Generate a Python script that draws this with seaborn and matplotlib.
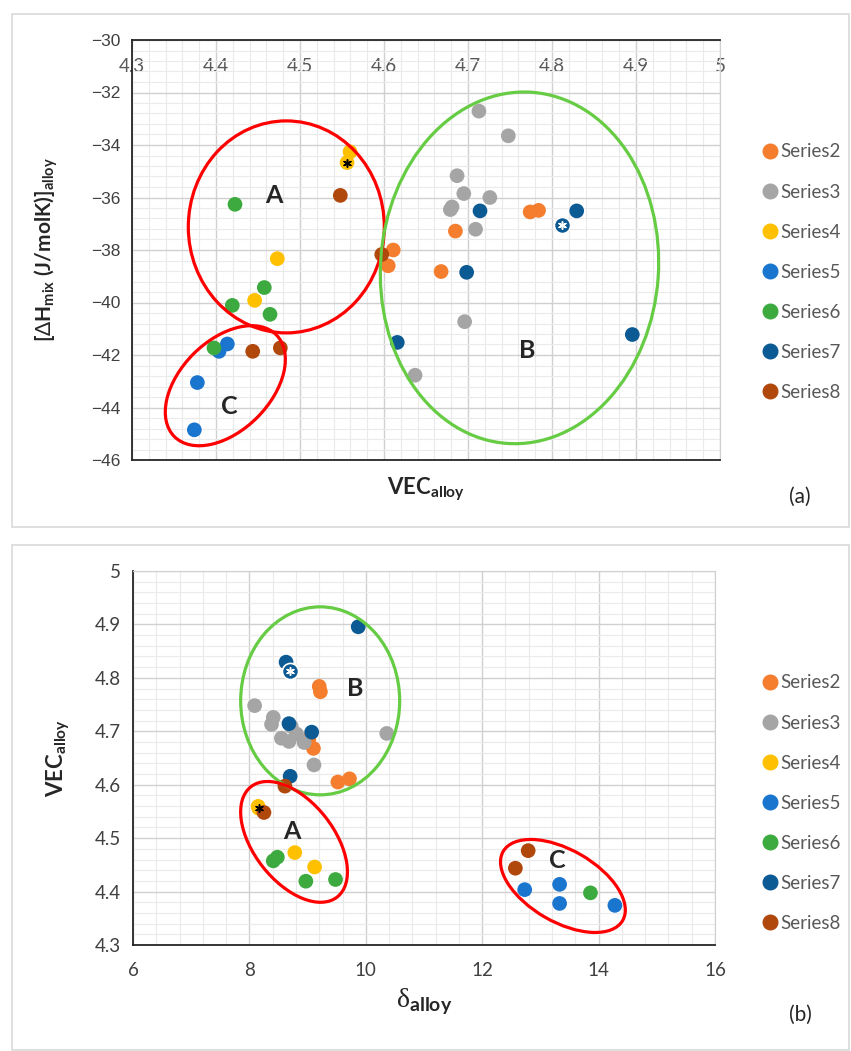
import numpy as np
import pandas as pd
import seaborn as sns
import matplotlib
matplotlib.use("Agg")
import matplotlib.pyplot as plt
from matplotlib.patches import Ellipse, Rectangle
from matplotlib.lines import Line2D
import matplotlib.transforms as mtransforms
from matplotlib.ticker import MultipleLocator, FuncFormatter

# ---------------- data ----------------
series_names = ["Series2", "Series3", "Series4", "Series5", "Series6", "Series7", "Series8"]
series_colors = ["#F47E2E", "#A5A5A5", "#FFC000", "#1A75CF", "#3DAA3F", "#0C5A93", "#B0480C"]

vec_s2 = [4.611, 4.605, 4.668, 4.685, 4.774, 4.784]
dh_s2 = [-38.0, -38.6, -38.82, -37.28, -36.55, -36.49]
delta_s2 = [9.72, 9.52, 9.10, 9.02, 9.22, 9.20]

vec_s3 = [4.713, 4.748, 4.687, 4.695, 4.726, 4.681, 4.679, 4.709, 4.696, 4.637]
dh_s3 = [-32.71, -33.65, -35.17, -35.85, -36.0, -36.36, -36.46, -37.21, -40.73, -42.77]
delta_s3 = [8.38, 8.09, 8.55, 8.81, 8.41, 8.68, 8.94, 8.72, 10.36, 9.11]

vec_s4 = [4.5595, 4.556, 4.473, 4.446]
dh_s4 = [-34.26, -34.67, -38.33, -39.92]
delta_s4 = [8.15, 8.16, 8.78, 9.12]

vec_s5 = [4.4135, 4.4036, 4.3778, 4.3742]
dh_s5 = [-41.58, -41.86, -43.05, -44.85]
delta_s5 = [13.33, 12.73, 13.33, 14.28]

vec_s6 = [4.4226, 4.4575, 4.4194, 4.4643, 4.3976]
dh_s6 = [-36.26, -39.43, -40.11, -40.45, -41.73]
delta_s6 = [9.48, 8.41, 8.97, 8.48, 13.86]

vec_s7 = [4.7143, 4.8123, 4.8294, 4.6984, 4.6158, 4.8956]
dh_s7 = [-36.51, -37.06, -36.51, -38.85, -41.52, -41.22]
delta_s7 = [8.68, 8.70, 8.63, 9.07, 8.70, 9.87]

vec_s8 = [4.548, 4.5973, 4.4437, 4.4766]
dh_s8 = [-35.92, -38.17, -41.86, -41.73]
delta_s8 = [8.25, 8.61, 12.57, 12.79]

vec_all = [vec_s2, vec_s3, vec_s4, vec_s5, vec_s6, vec_s7, vec_s8]
dh_all = [dh_s2, dh_s3, dh_s4, dh_s5, dh_s6, dh_s7, dh_s8]
delta_all = [delta_s2, delta_s3, delta_s4, delta_s5, delta_s6, delta_s7, delta_s8]

# points marked with an asterisk: (series, index, asterisk colour)
star_points = [("Series4", 1, "black"), ("Series7", 1, "white")]

# ---------------- dataframe ----------------
rows = []
for name, v, d, dl in zip(series_names, vec_all, dh_all, delta_all):
    for i in range(len(v)):
        rows.append({"series": name, "idx": i, "VEC": v[i], "dH": d[i], "delta": dl[i]})
df = pd.DataFrame(rows)
palette = dict(zip(series_names, series_colors))

# ---------------- figure ----------------
sns.set_style("white")
plt.rcParams["font.family"] = ["Lato", "DejaVu Sans"]
plt.rcParams["mathtext.fontset"] = "custom"
plt.rcParams["mathtext.rm"] = "Lato"
plt.rcParams["mathtext.bf"] = "Lato:bold"
plt.rcParams["mathtext.it"] = "Lato:italic"

W, H = 851, 1051
fig = plt.figure(figsize=(W / 100, H / 100), dpi=100)

# panel frames
for (y0, y1) in [(14, 527), (545, 1050)]:
    fig.add_artist(Rectangle((12 / W, 1 - y1 / H), (849 - 12) / W, (y1 - y0) / H,
                             transform=fig.transFigure, fill=False, ec="#D9D9D9", lw=1.2))

ax1 = fig.add_axes([132 / W, 1 - 460 / H, 588 / W, 420 / H])
ax2 = fig.add_axes([133 / W, 1 - 945 / H, 582 / W, 374 / H])

fmt = FuncFormatter(lambda v, p: f"{v:g}".replace("-", "\u2212"))

def draw_points(ax, xcol, ycol):
    sns.scatterplot(data=df, x=xcol, y=ycol, hue="series", palette=palette, s=112,
                    linewidth=0, ax=ax, legend=False, zorder=3)
    for name, idx, c in star_points:
        r = df[(df.series == name) & (df.idx == idx)]
        if c == "white":
            ax.scatter(r[xcol], r[ycol], s=135, color=palette[name], edgecolor="white", lw=1.2, zorder=4)
        ax.scatter(r[xcol], r[ycol], s=30, marker=(6, 2, 0), color=c, lw=1.1, zorder=5)

def draw_ellipse(ax, cx, cy, w_px, h_px, angle, color):
    tr = fig.dpi_scale_trans + mtransforms.ScaledTranslation(cx, cy, ax.transData)
    e = Ellipse((0, 0), w_px / 100, h_px / 100, angle=angle, transform=tr,
                fill=False, ec=color, lw=2.3, zorder=6)
    ax.add_artist(e)

def style_grid(ax):
    ax.grid(which="major", color="#D0D0D0", lw=1.0)
    ax.grid(which="minor", color="#EAEAEA", lw=0.8)
    ax.set_axisbelow(True)
    ax.tick_params(which="minor", length=0)

# ---------------- panel (a) ----------------
draw_points(ax1, "VEC", "dH")
ax1.set_xlim(4.3, 5.0)
ax1.set_ylim(-46, -30)
ax1.xaxis.set_major_locator(MultipleLocator(0.1))
ax1.xaxis.set_minor_locator(MultipleLocator(0.02))
ax1.yaxis.set_major_locator(MultipleLocator(2))
ax1.yaxis.set_minor_locator(MultipleLocator(0.4))
ax1.xaxis.set_major_formatter(fmt)
ax1.yaxis.set_major_formatter(fmt)
style_grid(ax1)
ax1.xaxis.tick_top()
ax1.tick_params(axis="x", which="major", length=0, pad=-25, labelsize=13.5, labelcolor="#595959")
ax1.tick_params(axis="y", which="major", length=5, width=1.2, color="#262626", direction="out",
                labelsize=12.5, labelcolor="#404040", labelfontfamily="Liberation Sans")
for s in ["left", "top", "bottom"]:
    ax1.spines[s].set_color("#262626")
    ax1.spines[s].set_linewidth(1.3)
ax1.spines["right"].set_color("#D0D0D0")
ax1.set_xlabel(r"VEC$_{\mathbf{alloy}}$", fontsize=16, fontweight="bold", labelpad=0)
ax1.xaxis.set_label_position("bottom")
ax1.xaxis.set_label_coords(0.5, -0.038)
ax1.set_ylabel(r"[$\Delta$H$_{\mathbf{mix}}$ (J/molK)]$_{\mathbf{alloy}}$", fontsize=15,
               fontweight="bold")
ax1.yaxis.set_label_coords(-0.122, 0.5)

ellipses_a = [(4.4837, -37.12, 196, 212, 0, "#FF0000"),
              (4.4111, -43.17, 144, 90, 45, "#FF0000"),
              (4.7613, -38.68, 278, 352, -4, "#66CC44")]
for cx, cy, w, h, ang, c in ellipses_a:
    draw_ellipse(ax1, cx, cy, w, h, ang, c)
labels_a = [(4.469, -35.94, "A"), (4.4158, -43.97, "C"), (4.771, -41.81, "B")]
for x, y, t in labels_a:
    ax1.text(x, y, t, fontsize=18, fontweight="bold", ha="center", va="center", zorder=7)
fig.text(800 / W, 1 - 497 / H, "(a)", fontsize=15, ha="center", va="center", color="#262626")

# ---------------- panel (b) ----------------
draw_points(ax2, "delta", "VEC")
ax2.set_xlim(6, 16)
ax2.set_ylim(4.3, 5.0)
ax2.xaxis.set_major_locator(MultipleLocator(2))
ax2.xaxis.set_minor_locator(MultipleLocator(0.4))
ax2.yaxis.set_major_locator(MultipleLocator(0.1))
ax2.yaxis.set_minor_locator(MultipleLocator(0.02))
ax2.xaxis.set_major_formatter(fmt)
ax2.yaxis.set_major_formatter(fmt)
style_grid(ax2)
ax2.tick_params(axis="x", which="major", length=8, width=1.2, color="#262626", direction="inout",
                labelsize=13.5, labelcolor="#404040", pad=8)
ax2.tick_params(axis="y", which="major", length=5, width=1.2, color="#262626", direction="out",
                labelsize=13.5, labelcolor="#404040")
for s in ["left", "bottom"]:
    ax2.spines[s].set_color("#262626")
    ax2.spines[s].set_linewidth(1.3)
for s in ["right", "top"]:
    ax2.spines[s].set_color("#D0D0D0")
ax2.set_xlabel(r"δ$_{\mathbf{alloy}}$", fontsize=20, family=["Liberation Serif", "DejaVu Serif"])
ax2.xaxis.set_label_coords(0.5, -0.11)
ax2.set_ylabel(r"VEC$_{\mathbf{alloy}}$", fontsize=16, fontweight="bold")
ax2.yaxis.set_label_coords(-0.105, 0.5)

ellipses_b = [(9.216, 4.757, 159, 188, 0, "#66CC44"),
              (8.767, 4.493, 140, 80, -52, "#FF0000"),
              (13.387, 4.4105, 138, 72, -30, "#FF0000")]
for cx, cy, w, h, ang, c in ellipses_b:
    draw_ellipse(ax2, cx, cy, w, h, ang, c)
labels_b = [(9.823, 4.780, "B"), (8.724, 4.512, "A"), (13.285, 4.459, "C")]
for x, y, t in labels_b:
    ax2.text(x, y, t, fontsize=18, fontweight="bold", ha="center", va="center", zorder=7)
fig.text(800 / W, 1 - 1015 / H, "(b)", fontsize=15, ha="center", va="center", color="#262626")

# ---------------- legends ----------------
handles = [Line2D([0], [0], marker="o", ls="", color=c, markersize=10.5) for c in series_colors]
for y_top in [143.5, 674.5]:
    fig.legend(handles, series_names, loc="upper left",
               bbox_to_anchor=(763 / W, 1 - y_top / H), bbox_transform=fig.transFigure,
               frameon=False, fontsize=13.5, labelcolor="#595959", handlelength=0.7,
               handletextpad=0.2, labelspacing=1.23, borderpad=0, borderaxespad=0)

fig.savefig("out.png", dpi=100)
